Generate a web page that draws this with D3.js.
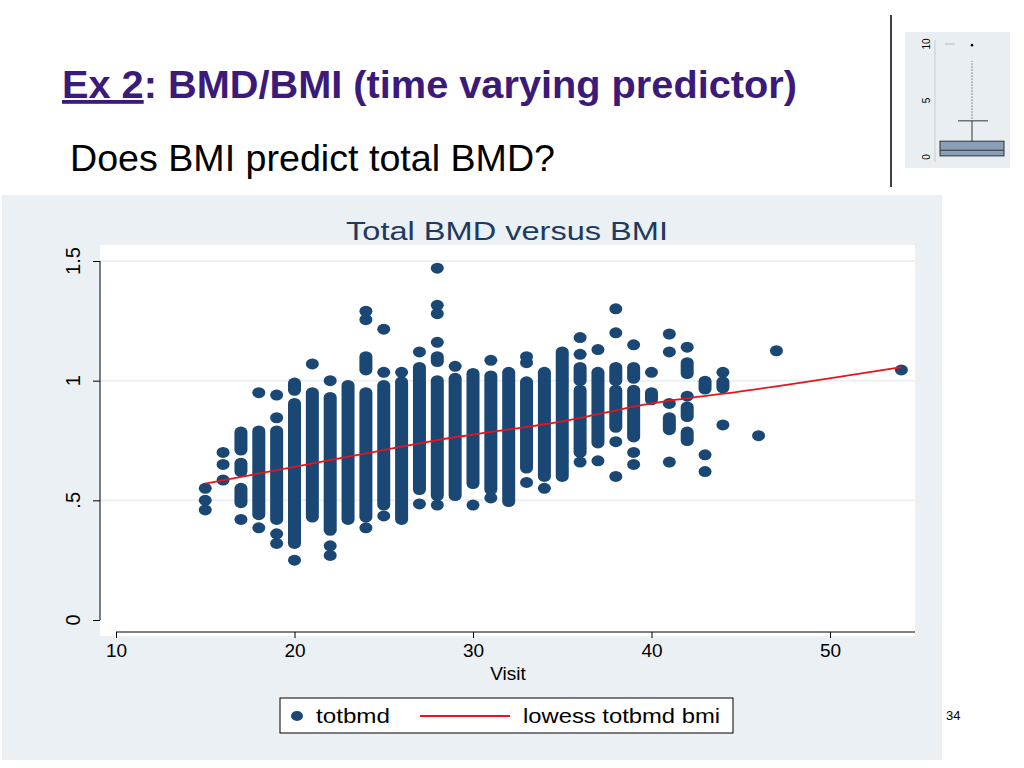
<!DOCTYPE html>
<html><head><meta charset="utf-8">
<script src="https://cdn.jsdelivr.net/npm/d3@7"></script>
<style>body{margin:0;background:#fff;font-family:Arial,"Liberation Sans",sans-serif}</style>
</head><body>
<script>
// visits shown on the x axis, one column per visit
var visits = [15,16,17,18,19,20,21,22,23,24,25,26,27,28,29,30,31,32,33,34,35,36,37,38,39,40,41,42,43,44,46,47,54];
// dense runs of points per visit: [low, high]
var runs = [
  [],[],[[0.71,0.785],[0.62,0.655],[0.49,0.55]],[[0.44,0.79]],[[0.42,0.79]],
  [[0.96,0.99],[0.32,0.905]],[[0.43,0.95]],[[0.375,0.93]],[[0.42,0.98]],[[1.045,1.10],[0.43,0.95]],
  [[0.48,0.98]],[[0.42,0.995]],[[0.545,1.055]],[[1.08,1.10],[0.52,1.0]],[[0.52,1.01]],
  [[0.57,1.03]],[[0.545,1.02]],[[0.495,1.035]],[[0.635,0.995]],[[0.60,1.035]],
  [[0.60,1.12]],[[1.0,1.055],[0.70,0.96]],[[0.74,1.035]],[[1.0,1.055],[0.805,0.96]],[[1.01,1.055],[0.765,0.96]],
  [[0.92,0.95]],[[0.795,0.845]],[[1.03,1.075],[0.85,0.89],[0.75,0.785]],[[0.965,0.998]],[[0.97,0.995]],
  [],[],[]
];
// isolated points per visit
var singles = [
  [0.55,0.50,0.46],[0.70,0.65,0.585],[0.42],[0.95,0.385],[0.94,0.845,0.36,0.32],
  [0.25],[1.07],[1.0,0.31,0.27],[],[1.29,1.255,0.385],
  [1.215,1.035,0.435],[1.035],[1.12,0.485],[1.47,1.315,1.28,1.16,0.48],[1.06],
  [0.48],[1.085,0.51],[],[1.10,1.075,0.575],[0.55],
  [],[1.18,1.11,0.66],[1.13,0.665],[1.30,1.20,0.745,0.60],[1.15,0.70,0.65],
  [1.035],[1.195,1.12,0.905,0.66],[1.14,0.935],[0.69,0.62],[1.035,0.815],
  [0.77],[1.125],[1.045]
];
// lowess smooth
var lowessX = [15,20,25,28,30,35,40,45,54];
var lowessY = [0.57,0.64,0.71,0.752,0.775,0.83,0.905,0.955,1.057];
var xTicks = [10,20,30,40,50];
var yTicks = [0,0.5,1,1.5];
var yTickLabels = ["0",".5","1","1.5"];

var svg = d3.select("body").append("svg").attr("width",1024).attr("height",768);

// slide header
var h = svg.append("text").attr("x",62).attr("y",98).attr("font-size",38).attr("font-weight","bold").attr("fill","#3b1a7a")
  .attr("textLength",735).attr("lengthAdjust","spacingAndGlyphs");
h.append("tspan").attr("text-decoration","underline").text("Ex 2");
h.append("tspan").text(": BMD/BMI (time varying predictor)");
svg.append("text").attr("x",70).attr("y",171).attr("font-size",36).attr("fill","#000")
  .attr("textLength",485).attr("lengthAdjust","spacingAndGlyphs").text("Does BMI predict total BMD?");
svg.append("line").attr("x1",891).attr("x2",891).attr("y1",15).attr("y2",187).attr("stroke","#000").attr("stroke-width",1.5);

// thumbnail boxplot
var th = svg.append("g");
th.append("rect").attr("x",905).attr("y",32).attr("width",105).attr("height",136).attr("fill","#e8eef2");
var ts = d3.scaleLinear().domain([0,10]).range([157,44]);
th.append("line").attr("x1",935).attr("x2",935).attr("y1",40).attr("y2",162).attr("stroke","#ccc");
[0,5,10].forEach(function(v){
  th.append("text").attr("transform","translate(930,"+ts(v)+") rotate(-90)").attr("text-anchor","middle").attr("font-size",10).text(v);
});
th.append("line").attr("x1",945).attr("x2",955).attr("y1",ts(10)).attr("y2",ts(10)).attr("stroke","#bbb");
th.append("rect").attr("x",940).attr("y",ts(1.4)).attr("width",64).attr("height",ts(0.1)-ts(1.4)).attr("fill","#8a9fb8").attr("stroke","#333");
th.append("line").attr("x1",940).attr("x2",1004).attr("y1",ts(0.6)).attr("y2",ts(0.6)).attr("stroke","#333");
th.append("line").attr("x1",972).attr("x2",972).attr("y1",ts(1.4)).attr("y2",ts(3.2)).attr("stroke","#333");
th.append("line").attr("x1",958).attr("x2",988).attr("y1",ts(3.2)).attr("y2",ts(3.2)).attr("stroke","#333");
th.append("line").attr("x1",972).attr("x2",972).attr("y1",ts(3.4)).attr("y2",ts(8.5)).attr("stroke","#333").attr("stroke-dasharray","1,2");
th.append("circle").attr("cx",972).attr("cy",ts(9.9)).attr("r",1.3).attr("fill","#000");

// chart panel
svg.append("rect").attr("x",2).attr("y",195).attr("width",940).attr("height",565).attr("fill","#eaf0f3");
svg.append("text").attr("x",507).attr("y",240).attr("text-anchor","middle").attr("font-size",26).attr("fill","#1e3a5f")
  .attr("textLength",322).attr("lengthAdjust","spacingAndGlyphs").text("Total BMD versus BMI");

var plot = {left:100,right:915,top:245,bottom:636};
svg.append("rect").attr("x",plot.left).attr("y",plot.top).attr("width",plot.right-plot.left).attr("height",plot.bottom-plot.top).attr("fill","#fff");

var x = d3.scaleLinear().domain([10,50]).range([116,830]);
var y = d3.scaleLinear().domain([0,1.5]).range([620,261]);

// gridlines
svg.append("g").selectAll("line").data(yTicks.slice(1)).enter().append("line")
  .attr("x1",plot.left).attr("x2",plot.right).attr("y1",d=>y(d)).attr("y2",d=>y(d))
  .attr("stroke","#eaf0f3").attr("stroke-width",2);

// y axis
var yAxis = svg.append("g").attr("transform","translate("+plot.left+",0)")
  .call(d3.axisLeft(y).tickValues(yTicks).tickFormat("").tickSize(7));
yAxis.select(".domain").remove();
yAxis.append("line").attr("x1",0).attr("x2",0).attr("y1",y(0)).attr("y2",y(1.5)).attr("stroke","#000");
svg.append("g").selectAll("text").data(yTicks).enter().append("text")
  .attr("transform",d=>"translate(80,"+y(d)+") rotate(-90)")
  .attr("text-anchor","middle").attr("font-size",20).attr("fill","#000").text((d,i)=>yTickLabels[i]);

// x axis
var xAxis = svg.append("g").attr("transform","translate(0,"+(plot.bottom-4)+")")
  .call(d3.axisBottom(x).tickValues(xTicks).tickSize(6));
xAxis.select(".domain").remove();
xAxis.append("line").attr("x1",x(10)).attr("x2",plot.right).attr("stroke","#000");
xAxis.selectAll("text").attr("font-size",19).attr("fill","#000").attr("dy","0.85em");
svg.append("text").attr("x",508).attr("y",680).attr("text-anchor","middle").attr("font-size",19).text("Visit");

// points
var col = "#1a4773";
var pts = svg.append("g");
visits.forEach(function(v,i){
  pts.selectAll(null).data(runs[i]).enter().append("rect")
    .attr("x",x(v)-6.5).attr("width",13)
    .attr("y",d=>y(d[1])-5.5).attr("height",d=>y(d[0])-y(d[1])+11)
    .attr("rx",6.5).attr("ry",5.5).attr("fill",col);
  pts.selectAll(null).data(singles[i]).enter().append("ellipse")
    .attr("cx",x(v)).attr("cy",d=>y(d)).attr("rx",6.5).attr("ry",5.5).attr("fill",col);
});

// lowess
var line = d3.line().x((d,i)=>x(lowessX[i])).y(d=>y(d)).curve(d3.curveMonotoneX);
svg.append("path").attr("d",line(lowessY)).attr("fill","none").attr("stroke","#e8141c").attr("stroke-width",1.8);

// legend
var lg = svg.append("g");
lg.append("rect").attr("x",280).attr("y",698).attr("width",453).attr("height",35).attr("fill","#fff").attr("stroke","#000");
lg.append("ellipse").attr("cx",297).attr("cy",716).attr("rx",6).attr("ry",5).attr("fill",col);
lg.append("text").attr("x",316).attr("y",723).attr("font-size",20).attr("textLength",74).attr("lengthAdjust","spacingAndGlyphs").text("totbmd");
lg.append("line").attr("x1",420).attr("x2",510).attr("y1",716).attr("y2",716).attr("stroke","#e8141c").attr("stroke-width",1.8);
lg.append("text").attr("x",523).attr("y",723).attr("font-size",20).attr("textLength",197).attr("lengthAdjust","spacingAndGlyphs").text("lowess totbmd bmi");

svg.append("text").attr("x",946).attr("y",720).attr("font-size",13).text("34");
</script>
</body></html>
